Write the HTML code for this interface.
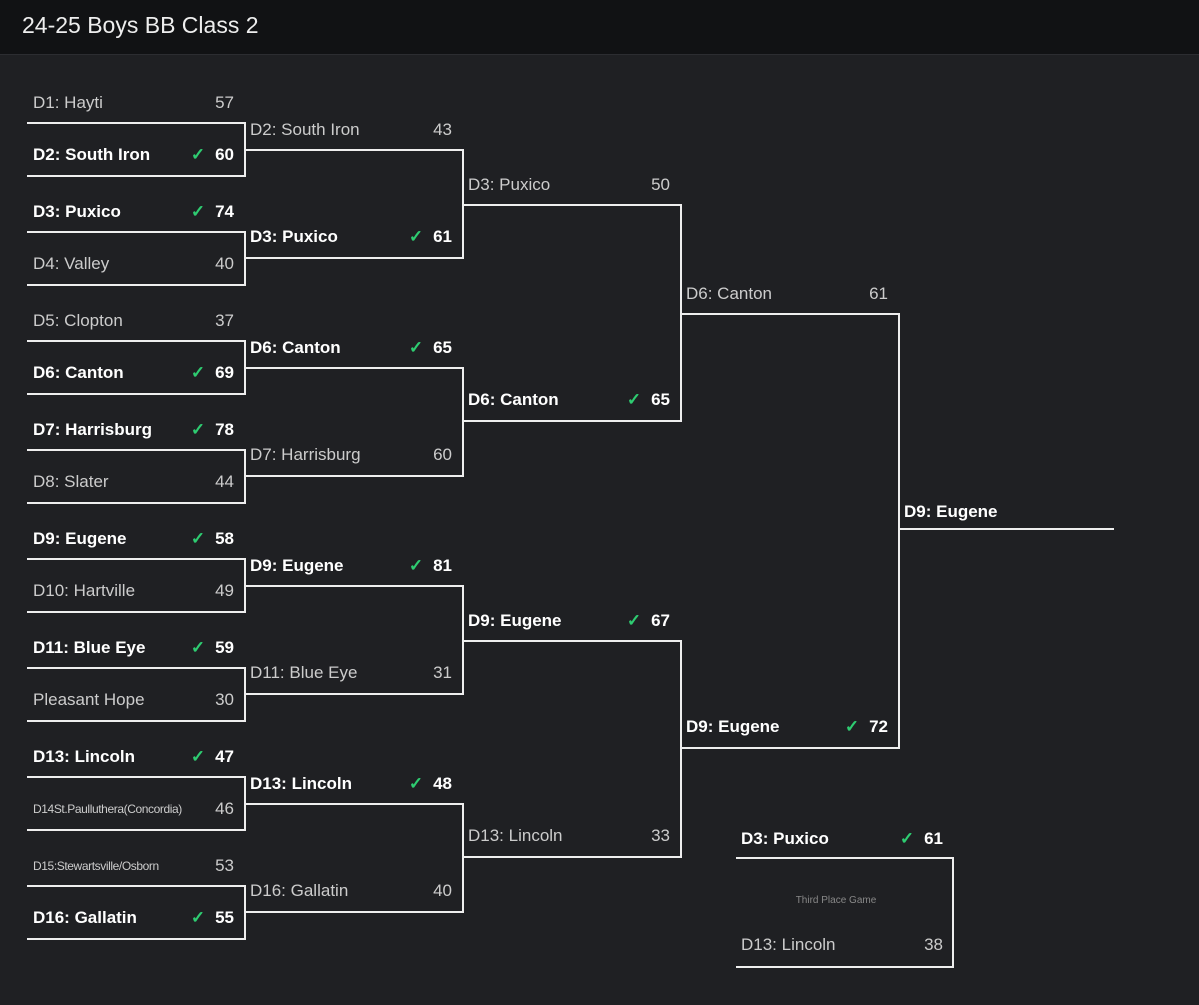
<!DOCTYPE html>
<html><head><meta charset="utf-8"><style>
body{margin:0;width:1199px;height:1005px;background:#1f2023;font-family:"Liberation Sans",sans-serif;overflow:hidden;position:relative}
.hd{position:absolute;left:0;top:0;width:1199px;height:54px;background:#111214;border-bottom:1px solid #2c2d31}
.hd span{position:absolute;left:22px;top:12px;font-size:23px;color:#eee}
.g{position:absolute;border-top:2px solid #eee;border-bottom:2px solid #eee;border-right:2px solid #eee;box-sizing:border-box}
.h{position:absolute;height:2px;background:#eee}
.t{position:absolute;height:22px;line-height:22px;font-size:17px;color:#ccc;display:flex;justify-content:space-between;padding-left:6px;box-sizing:border-box}
.t.w{color:#fff;font-weight:bold}
.t.w i{font-style:normal;color:#2ecc71;margin-right:10px;font-weight:bold}
.t.s{font-size:12px;letter-spacing:-0.4px}
.t.s b{font-size:17px;font-weight:normal;letter-spacing:0}
</style></head><body>
<div class="hd"><span>24-25 Boys BB Class 2</span></div>

<!-- R1 boxes -->
<div class="g" style="left:27px;top:122px;width:219px;height:55px"></div>
<div class="g" style="left:27px;top:231px;width:219px;height:55px"></div>
<div class="g" style="left:27px;top:340px;width:219px;height:55px"></div>
<div class="g" style="left:27px;top:449px;width:219px;height:55px"></div>
<div class="g" style="left:27px;top:558px;width:219px;height:55px"></div>
<div class="g" style="left:27px;top:667px;width:219px;height:55px"></div>
<div class="g" style="left:27px;top:776px;width:219px;height:55px"></div>
<div class="g" style="left:27px;top:885px;width:219px;height:55px"></div>
<!-- R2 -->
<div class="g" style="left:244px;top:149px;width:220px;height:110px"></div>
<div class="g" style="left:244px;top:367px;width:220px;height:110px"></div>
<div class="g" style="left:244px;top:585px;width:220px;height:110px"></div>
<div class="g" style="left:244px;top:803px;width:220px;height:110px"></div>
<!-- R3 -->
<div class="g" style="left:462px;top:204px;width:220px;height:218px"></div>
<div class="g" style="left:462px;top:640px;width:220px;height:218px"></div>
<!-- R4 -->
<div class="g" style="left:680px;top:313px;width:220px;height:436px"></div>
<div class="h" style="left:898px;top:528px;width:216px"></div>
<!-- third -->
<div class="g" style="left:736px;top:857px;width:218px;height:111px"></div>

<!-- R1 text -->
<div class="t" style="left:27px;top:92px;width:207px"><span>D1: Hayti</span><span>57</span></div>
<div class="t w" style="left:27px;top:144px;width:207px"><span>D2: South Iron</span><span><i>✓</i>60</span></div>
<div class="t w" style="left:27px;top:201px;width:207px"><span>D3: Puxico</span><span><i>✓</i>74</span></div>
<div class="t" style="left:27px;top:253px;width:207px"><span>D4: Valley</span><span>40</span></div>
<div class="t" style="left:27px;top:310px;width:207px"><span>D5: Clopton</span><span>37</span></div>
<div class="t w" style="left:27px;top:362px;width:207px"><span>D6: Canton</span><span><i>✓</i>69</span></div>
<div class="t w" style="left:27px;top:419px;width:207px"><span>D7: Harrisburg</span><span><i>✓</i>78</span></div>
<div class="t" style="left:27px;top:471px;width:207px"><span>D8: Slater</span><span>44</span></div>
<div class="t w" style="left:27px;top:528px;width:207px"><span>D9: Eugene</span><span><i>✓</i>58</span></div>
<div class="t" style="left:27px;top:580px;width:207px"><span>D10: Hartville</span><span>49</span></div>
<div class="t w" style="left:27px;top:637px;width:207px"><span>D11: Blue Eye</span><span><i>✓</i>59</span></div>
<div class="t" style="left:27px;top:689px;width:207px"><span>Pleasant Hope</span><span>30</span></div>
<div class="t w" style="left:27px;top:746px;width:207px"><span>D13: Lincoln</span><span><i>✓</i>47</span></div>
<div class="t s" style="left:27px;top:798px;width:207px"><span>D14St.Paulluthera(Concordia)</span><b>46</b></div>
<div class="t s" style="left:27px;top:855px;width:207px"><span>D15:Stewartsville/Osborn</span><b>53</b></div>
<div class="t w" style="left:27px;top:907px;width:207px"><span>D16: Gallatin</span><span><i>✓</i>55</span></div>

<!-- R2 text -->
<div class="t" style="left:244px;top:119px;width:208px"><span>D2: South Iron</span><span>43</span></div>
<div class="t w" style="left:244px;top:226px;width:208px"><span>D3: Puxico</span><span><i>✓</i>61</span></div>
<div class="t w" style="left:244px;top:337px;width:208px"><span>D6: Canton</span><span><i>✓</i>65</span></div>
<div class="t" style="left:244px;top:444px;width:208px"><span>D7: Harrisburg</span><span>60</span></div>
<div class="t w" style="left:244px;top:555px;width:208px"><span>D9: Eugene</span><span><i>✓</i>81</span></div>
<div class="t" style="left:244px;top:662px;width:208px"><span>D11: Blue Eye</span><span>31</span></div>
<div class="t w" style="left:244px;top:773px;width:208px"><span>D13: Lincoln</span><span><i>✓</i>48</span></div>
<div class="t" style="left:244px;top:880px;width:208px"><span>D16: Gallatin</span><span>40</span></div>

<!-- R3 text -->
<div class="t" style="left:462px;top:174px;width:208px"><span>D3: Puxico</span><span>50</span></div>
<div class="t w" style="left:462px;top:389px;width:208px"><span>D6: Canton</span><span><i>✓</i>65</span></div>
<div class="t w" style="left:462px;top:610px;width:208px"><span>D9: Eugene</span><span><i>✓</i>67</span></div>
<div class="t" style="left:462px;top:825px;width:208px"><span>D13: Lincoln</span><span>33</span></div>

<!-- R4 text -->
<div class="t" style="left:680px;top:283px;width:208px"><span>D6: Canton</span><span>61</span></div>
<div class="t w" style="left:680px;top:716px;width:208px"><span>D9: Eugene</span><span><i>✓</i>72</span></div>
<div class="t w" style="left:898px;top:501px;width:208px"><span>D9: Eugene</span><span></span></div>

<!-- third place -->
<div class="t w" style="left:735px;top:828px;width:208px"><span>D3: Puxico</span><span><i>✓</i>61</span></div>
<div class="t" style="left:735px;top:934px;width:208px"><span>D13: Lincoln</span><span>38</span></div>
<div style="position:absolute;left:736px;top:895px;width:200px;text-align:center;font-size:10px;color:#888">Third Place Game</div>
</body></html>
